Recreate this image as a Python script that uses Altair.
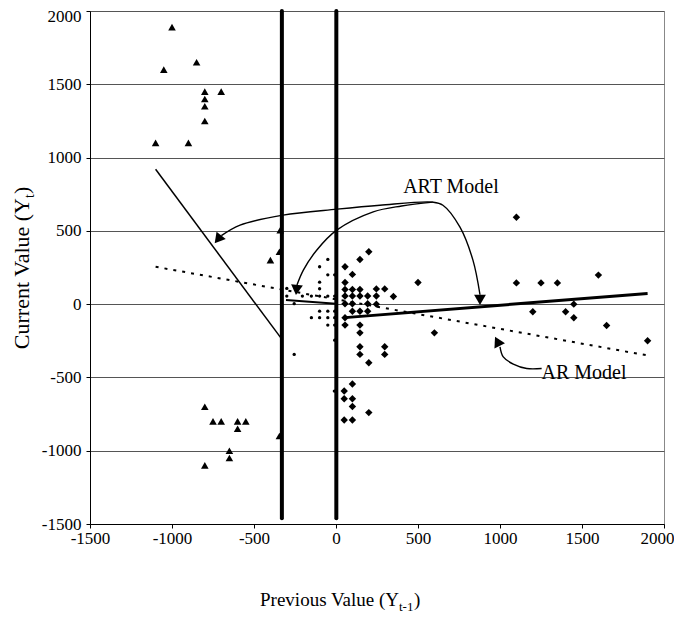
import altair as alt
import pandas as pd

# ---- data ----
tri_x = [-1000, -850, -1050, -800, -700, -800, -800, -800, -1100, -900,
         -340, -345, -400,
         -800, -750, -700, -600, -550, -600, -650, -650, -800, -345]
tri_y = [1890, 1650, 1600, 1450, 1450, 1400, 1350, 1250, 1100, 1100,
         505, 357, 300,
         -700, -800, -800, -800, -800, -850, -1000, -1050, -1100, -900]

dot_x = [-50, -100, -50, -8, -100, -300, -100,
         -300, -205, -150, -100, -50, -8,
         -255,
         -100, -50, -8,
         -150, -100, -50, -8,
         -50, -8,
         -8, -255, -10]
dot_y = [305, 255, 200, 200, 150, 107, 105,
         55, 55, 55, 55, 55, 55,
         3,
         -48, -48, -48,
         -92, -92, -92, -92,
         -143, -143,
         -246, -343, -593]

dia_x = [200, 146, 55, 100, 55,
         55, 100, 146, 246, 297,
         55, 100, 146, 193, 246, 350,
         55, 100, 193, 246,
         100, 146, 193,
         55, 55, 146, 146, 146, 146, 297, 297, 200,
         500, 600,
         1100, 1100, 1250, 1350, 1600, 1200, 1400, 1450, 1450, 1650, 1900,
         100, 50, 50, 100, 100, 200, 50, 100]
dia_y = [357, 305, 255, 203, 148,
         100, 100, 100, 104, 104,
         55, 55, 55, 55, 55, 52,
         3, 3, 3, 0,
         -48, -48, -48,
         -93, -143, -143, -196, -291, -343, -291, -343, -400,
         148, -196,
         593, 145, 145, 145, 198, -52, -52, 0, -93, -146, -250,
         -545, -593, -646, -646, -698, -740, -791, -791]

threshold_x = [-330, 2]
threshold_top = [2000, 2000]
threshold_bottom = [-1460, -1460]

art_left_x = [-1100, -335]
art_left_y = [920, -232]
art_mid_x = [-305, 0]
art_mid_y = [28, 3]
art_right_x = [55, 1900]
art_right_y = [-92, 73]
ar_x = [-1100, 1890]
ar_y = [255, -348]

# annotation arrows (data coordinates)
arrow_ac_x = [-699, -585, -323, 6, 268, 591, 652, 756, 835, 878]
arrow_ac_y = [467, 539, 607, 648, 675, 696, 675, 525, 300, 64]
arrow_b_x = [591, 400, 227, 4, -118, -199, -238]
arrow_b_y = [696, 670, 630, 505, 368, 232, 130]
arrow_ar_x = [1254, 1163, 1081, 1020, 1000]
arrow_ar_y = [-439, -439, -409, -360, -291]
head_x = [-720, -241, 878, 984]
head_y = [442, 97, 29, -254]
head_angle = [219, 186, 180, 333]

label_text = ["ART Model", "AR Model"]
label_x = [701, 1512]
label_y = [759, -512]

tick_values = [-1500, -1000, -500, 0, 500, 1000, 1500, 2000]

FONT = "Liberation Serif"

xscale = alt.Scale(domain=[-1500, 2000], nice=False, zero=False)
yscale = alt.Scale(domain=[-1500, 2000], nice=False, zero=False)
xaxis = alt.Axis(values=tick_values, title=None, grid=False, labelFlush=False,
                 labelOverlap=False, tickSize=4, labelPadding=2,
                 labelExpr="'' + datum.value",
                 labelOffset={"condition": {"test": "datum.value === 2000", "value": -7}, "value": 0})
yaxis = alt.Axis(values=tick_values, title=None, grid=True, labelFlush=False,
                 labelOverlap=False, tickSize=4, labelPadding=5,
                 labelExpr="'' + datum.value",
                 labelOffset={"condition": {"test": "datum.value === 2000", "value": 5}, "value": 0})
X = alt.X("x:Q", scale=xscale, axis=xaxis)
Y = alt.Y("y:Q", scale=yscale, axis=yaxis)


def df(xs, ys, **extra):
    d = pd.DataFrame({"x": xs, "y": ys})
    for k, v in extra.items():
        d[k] = v
    return d


tri = alt.Chart(df(tri_x, tri_y)).mark_point(
    shape="triangle-up", filled=True, size=58, color="black", opacity=1
).encode(x=X, y=Y)

dots = alt.Chart(df(dot_x, dot_y)).mark_circle(size=11, color="black", opacity=1).encode(x=X, y=Y)

dia = alt.Chart(df(dia_x, dia_y)).mark_point(
    shape="diamond", filled=True, size=55, color="black", opacity=1
).encode(x=X, y=Y)

thr = alt.Chart(pd.DataFrame({"x": threshold_x, "y": threshold_top, "y2": threshold_bottom})).mark_rule(
    color="black", strokeWidth=4, strokeCap="round"
).encode(x=X, y=Y, y2="y2:Q")


def seg(xs, ys, width, dash=None):
    kw = dict(color="black", strokeWidth=width)
    if dash:
        kw["strokeDash"] = dash
    return alt.Chart(df(xs, ys, i=list(range(len(xs))))).mark_line(**kw).encode(
        x=X, y=Y, order=alt.Order("i:Q"))


art_left = seg(art_left_x, art_left_y, 1.5)
art_mid = seg(art_mid_x, art_mid_y, 2)
art_right = seg(art_right_x, art_right_y, 3)
ar_line = seg(ar_x, ar_y, 2, [3, 6])


def curve(xs, ys):
    return alt.Chart(df(xs, ys, i=list(range(len(xs))))).mark_line(
        color="black", strokeWidth=1.4, interpolate="catmull-rom"
    ).encode(x=X, y=Y, order=alt.Order("i:Q"))


arr_ac = curve(arrow_ac_x, arrow_ac_y)
arr_b = curve(arrow_b_x, arrow_b_y)
arr_ar = curve(arrow_ar_x, arrow_ar_y)

heads = alt.Chart(df(head_x, head_y, a=head_angle)).mark_point(
    shape="triangle-up", filled=True, size=140, color="black", opacity=1
).encode(x=X, y=Y, angle=alt.Angle("a:Q", scale=None))

labels = alt.Chart(pd.DataFrame({"x": label_x, "y": label_y, "t": label_text})).mark_text(
    font=FONT, fontSize=20, color="black", baseline="alphabetic", align="center"
).encode(x=X, y=Y, text="t:N")

one = pd.DataFrame({"k": [0]})


def txt(text, x, y, size, align, angle=0, dy=0):
    kw = dict(text=text, font=FONT, fontSize=size, color="black", align=align,
              baseline="alphabetic", dy=dy)
    if angle:
        kw["angle"] = angle
    return alt.Chart(one).mark_text(**kw).encode(x=alt.value(x), y=alt.value(y))


# x title (with subscript), plot-area pixel coordinates
xt_main = txt("Previous Value (Y", 309, 595, 19, "right")
xt_sub = txt("t-1", 309, 600, 13, "left")
xt_close = txt(")", 324, 595, 19, "left")

# y title (rotated, with subscript)
yt_main = txt("Current Value (Y", -61, 187, 22, "right", angle=270)
yt_sub = txt("t", -61, 187, 14, "left", angle=270, dy=5)
yt_close = txt(")", -61, 183, 22, "left", angle=270)

chart = alt.layer(
    tri, dots, dia, ar_line, art_left, art_mid, art_right, thr,
    arr_ac, arr_b, arr_ar, heads, labels,
    xt_main, xt_sub, xt_close, yt_main, yt_sub, yt_close
).properties(
    width=574, height=513,
    autosize=alt.AutoSizeParams(type="none"),
    padding={"left": 82, "top": 3, "right": 10, "bottom": 90},
).configure_axis(
    labelFont=FONT, labelFontSize=17, labelColor="black",
    domainColor="black", tickColor="black", gridColor="#555", gridWidth=1,
    domainWidth=1,
).configure_view(stroke="#888", strokeWidth=1)

chart.save("out.html", embed_options={"renderer": "svg", "actions": False})
